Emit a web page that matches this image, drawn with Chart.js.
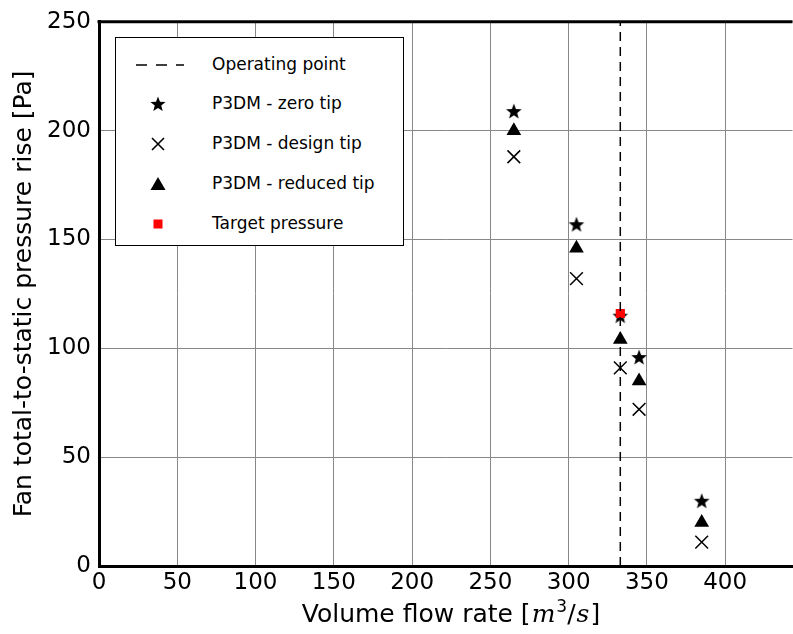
<!DOCTYPE html>
<html><head><meta charset="utf-8">
<script src="https://cdn.jsdelivr.net/npm/chart.js@4/dist/chart.umd.min.js"></script>
<style>
html,body{margin:0;padding:0;background:#fff;overflow:hidden}
#wrap{position:relative;width:793px;height:634px;overflow:hidden}
#c{position:absolute;left:0;top:0}
#legend{position:absolute;left:115px;top:37px;width:289px;height:209px;border:1px solid #000;background:#fff;box-sizing:border-box;font-family:"DejaVu Sans",sans-serif;font-size:17px;color:#000}
.row{position:absolute;left:0;height:24px;width:100%}
.row svg{position:absolute;left:20px;top:0}
.row span{position:absolute;left:96px;top:1px;white-space:nowrap}
#xtitle{position:absolute;left:0;width:902px;top:600px;text-align:center;font-family:"DejaVu Sans",sans-serif;font-size:25px;color:#000;white-space:nowrap;line-height:28px}
#xtitle i{font-family:"DejaVu Serif",serif;font-style:italic;margin:0 1px}
#xtitle sup{font-size:17px;vertical-align:10px;line-height:0}
</style></head>
<body><div id="wrap"><canvas id="c" width="803" height="634"></canvas>
<div id="legend">
 <div class="row" style="top:15px"><svg width="48" height="24"><line x1="0" y1="12" x2="48" y2="12" stroke="#000" stroke-width="1.5" stroke-dasharray="11,9"/></svg><span>Operating point</span></div>
 <div class="row" style="top:54px"><svg width="48" height="24"><polygon id="lstar" fill="#000"/></svg><span>P3DM - zero tip</span></div>
 <div class="row" style="top:94px"><svg width="48" height="24"><path d="M16 6 L28 18 M28 6 L16 18" stroke="#000" stroke-width="1.6"/></svg><span>P3DM - design tip</span></div>
 <div class="row" style="top:134px"><svg width="48" height="24"><polygon points="22,5 29.5,18 14.5,18" fill="#000"/></svg><span>P3DM - reduced tip</span></div>
 <div class="row" style="top:174px"><svg width="48" height="24"><rect x="17.5" y="7.5" width="9" height="9" fill="#f00"/></svg><span>Target pressure</span></div>
</div>
<div id="xtitle">Volume flow rate [<i>m</i><sup>3</sup>/<i>s</i>]</div>
</div>
<script>
const flowRates = [265, 305, 333, 345, 385];
const zeroTip = [209, 157, 115, 96, 30];
const designTip = [188, 132, 91, 72, 11];
const reducedTip = [200, 146, 104, 85, 20];
const targetFlow = [333];
const targetPressure = [116];
const operatingFlow = 333;
const yRange = [0, 250];
const xTickStep = 50;
const yTickStep = 50;

function starPoints(cx, cy, R, r){
  const pts=[];
  for(let i=0;i<10;i++){
    const a=-Math.PI/2+i*Math.PI/5;
    const rad=i%2===0?R:r;
    pts.push([cx+rad*Math.cos(a), cy+rad*Math.sin(a)]);
  }
  return pts;
}
document.getElementById('lstar').setAttribute('points', starPoints(22,12.5,8,3.4).map(p=>p.join(',')).join(' '));

const starImg = document.createElement('canvas');
starImg.width=18; starImg.height=18;
{const g=starImg.getContext('2d'); g.fillStyle='#000'; g.beginPath();
 starPoints(9,9.8,8.2,3.5).forEach((p,i)=>i?g.lineTo(p[0],p[1]):g.moveTo(p[0],p[1])); g.closePath(); g.fill();}

const toXY = (xs, ys) => xs.map((x,i)=>({x, y: ys[i]}));

const topBorder = {
  id:'topBorder',
  afterDraw(chart){
    const {ctx, chartArea:a} = chart;
    ctx.save(); ctx.strokeStyle='#000'; ctx.lineWidth=3;
    ctx.beginPath(); ctx.moveTo(a.left-1.5, a.top); ctx.lineTo(a.right, a.top); ctx.stroke();
    ctx.restore();
  }
};

new Chart(document.getElementById('c'), {
  type:'scatter',
  data:{datasets:[
    {label:'Operating point', type:'line', data:[{x:operatingFlow,y:yRange[0]},{x:operatingFlow,y:yRange[1]}],
     borderColor:'#000', borderWidth:1.5, borderDash:[9,6], pointRadius:0, fill:false, order:0},
    {label:'P3DM - zero tip', data:toXY(flowRates, zeroTip), pointStyle:starImg, order:3},
    {label:'P3DM - design tip', data:toXY(flowRates, designTip), pointStyle:'crossRot', pointRadius:9, borderColor:'#000', borderWidth:1.5, order:4},
    {label:'P3DM - reduced tip', data:toXY(flowRates, reducedTip), pointStyle:'triangle', pointRadius:8.5, backgroundColor:'#000', borderColor:'#000', borderWidth:0, order:5},
    {label:'Target pressure', data:toXY(targetFlow, targetPressure), pointStyle:'rect', pointRadius:6.5, backgroundColor:'#f00', borderColor:'#f00', borderWidth:0, order:1}
  ]},
  options:{
    responsive:false, animation:false, devicePixelRatio:1,
    layout:{padding:{top:21, right:0, left:9, bottom:0}},
    plugins:{legend:{display:false}, tooltip:{enabled:false}},
    scales:{
      x:{type:'linear', min:0, max:443,
         ticks:{stepSize:xTickStep, includeBounds:false, color:'#000', font:{family:'DejaVu Sans', size:23}, padding:3, maxRotation:0},
         grid:{color:'#888', lineWidth:1, drawTicks:false},
         border:{color:'#000', width:3},
         afterFit(s){ s.height = 68; }},
      y:{type:'linear', min:yRange[0], max:yRange[1],
         ticks:{stepSize:yTickStep, color:'#000', font:{family:'DejaVu Sans', size:23}, padding:8},
         grid:{color:'#888', lineWidth:1, drawTicks:false},
         border:{color:'#000', width:3},
         title:{display:true, text:'Fan total-to-static pressure rise [Pa]', color:'#000', font:{family:'DejaVu Sans', size:25}, padding:{top:0,bottom:4}},
         afterFit(s){ s.width = 90; }}
    }
  },
  plugins:[topBorder]
});
</script></body></html>
